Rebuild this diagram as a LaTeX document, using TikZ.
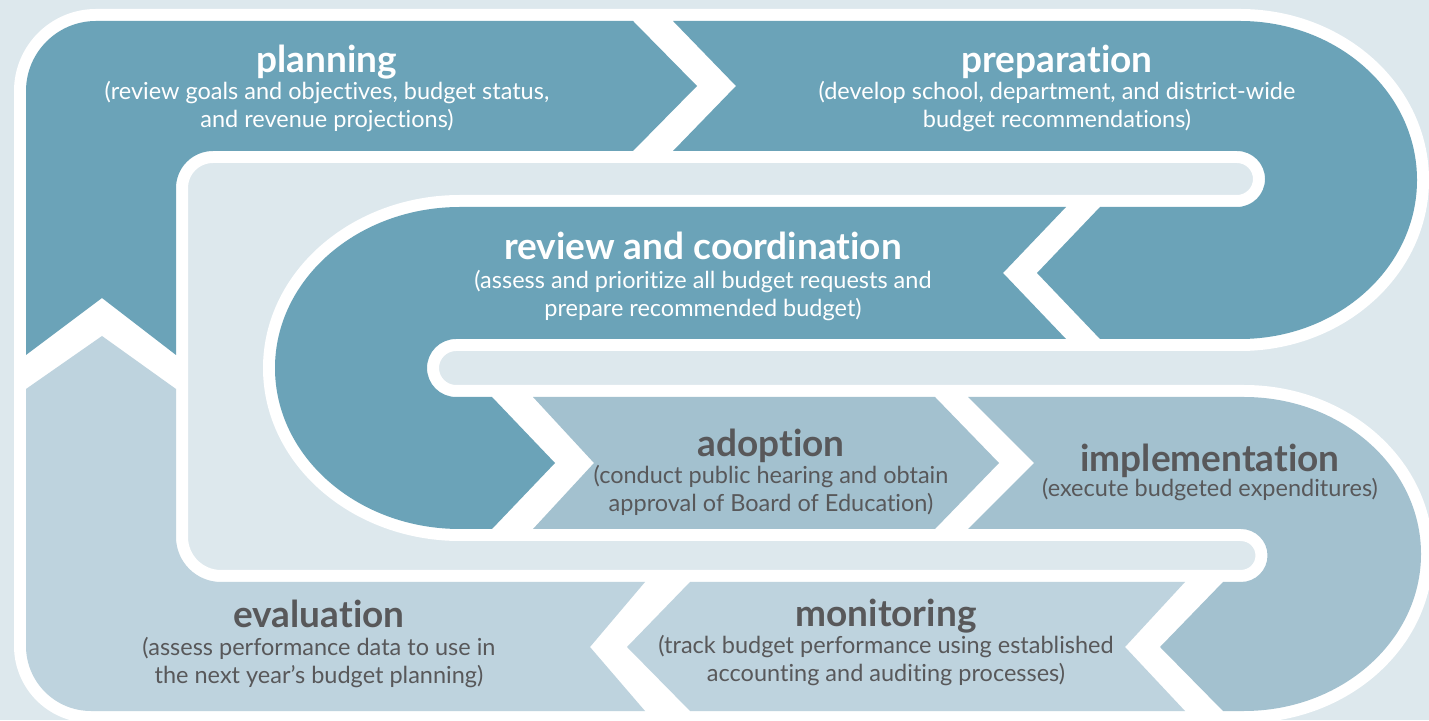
\documentclass[tikz,border=0pt]{standalone}
\usepackage{fontspec}
\setmainfont{Lato}[Ligatures={NoCommon, NoRare, NoContextual}]
\definecolor{bgblue}{HTML}{DDE8ED}
\definecolor{stepdark}{HTML}{6BA3B8}
\definecolor{stepmid}{HTML}{A3C1CF}
\definecolor{steplight}{HTML}{BED3DE}
\definecolor{txtgrey}{HTML}{58585A}
\begin{document}
\begin{tikzpicture}[x=1pt, y=1pt,
		band/.style={preaction={draw=white, line width=24pt, line join=round}},
		gapfill/.style={fill=white, draw=white, line width=24pt, line join=round},
		ttl/.style={font=\fontsize{37}{40}\selectfont\bfseries, anchor=base, inner sep=0pt},
		dsc/.style={font=\fontsize{23.5}{28}\selectfont, anchor=base, align=center, inner sep=0pt}]
			\fill [bgblue] (0,0) rectangle (1429,720);
			\useasboundingbox (0,0) rectangle (1429,720);
			% white gaps between the steps
			\filldraw [gapfill] (633,699) -- (673,699) -- (736,634) -- (673,569) -- (633,569) -- (697,634) -- cycle;
			\filldraw [gapfill] (1066,513) -- (1100,513) -- (1037,447) -- (1100,381) -- (1066,381) -- (1003,447) -- cycle;
			\filldraw [gapfill] (492,323) -- (533,323) -- (594,257) -- (533,191) -- (492,191) -- (555,257) -- cycle;
			\filldraw [gapfill] (935,323) -- (968,323) -- (1034,257) -- (968,191) -- (935,191) -- (999,257) -- cycle;
			\filldraw [gapfill] (1185,138) -- (1223,138) -- (1160,73) -- (1223,9) -- (1185,9) -- (1125,73) -- cycle;
			\filldraw [gapfill] (645,138) -- (690,138) -- (627,73) -- (690,9) -- (645,9) -- (590,73) -- cycle;
			\filldraw [gapfill] (26,365) -- (102,422) -- (176,365) -- (176,331) -- (102,384) -- (26,331) -- cycle;
			% planning, preparation, review
			\fill [stepdark, band] (26,365) -- (26,629) arc (180:90:70) -- (633,699) -- (697,634) -- (633,569) -- (213,569) arc (90:180:37) -- (176,365) -- (102,422) -- cycle;
			\fill [stepdark, band] (673,699) -- (1240,699) arc [start angle=90, end angle=-90, x radius=177, y radius=159] -- (1100,381) -- (1037,447) -- (1100,513) -- (1237,513) arc (-90:90:28) -- (673,569) -- (736,634) -- cycle;
			\fill [stepdark, band] (1066,513) -- (460,513) arc [start angle=90, end angle=270, x radius=185, y radius=161] -- (492,191) -- (555,257) -- (492,323) -- (456,323) arc (270:90:29) -- (1066,381) -- (1003,447) -- cycle;
			% adoption, implementation
			\fill [stepmid, band] (533,323) -- (935,323) -- (999,257) -- (935,191) -- (533,191) -- (594,257) -- cycle;
			\fill [stepmid, band] (968,323) -- (1244,323) arc [start angle=90, end angle=-90, x radius=177, y radius=157] -- (1223,9) -- (1160,73) -- (1223,138) -- (1241,138) arc (-90:90:26.5) -- (968,191) -- (1034,257) -- cycle;
			% monitoring, evaluation
			\fill [steplight, band] (1185,138) -- (690,138) -- (627,73) -- (690,9) -- (1185,9) -- (1125,73) -- cycle;
			\fill [steplight, band] (645,138) -- (221,138) arc (270:180:45) -- (176,331) -- (102,384) -- (26,331) -- (26,74) arc (180:270:65) -- (645,9) -- (590,73) -- cycle;
			% labels
			\node [ttl, text=white] (plan) at (327,647) {planning};
			\node [dsc, text=white] (plan-d) at (327,592) {(review goals and objectives, budget status,\\and revenue projections)};
			\node [ttl, text=white] (prep) at (1057,647) {preparation};
			\node [dsc, text=white] (prep-d) at (1057,592) {(develop school, department, and district-wide\\budget recommendations)};
			\node [ttl, text=white] (revw) at (703,460) {review and coordination};
			\node [dsc, text=white] (revw-d) at (703,403) {(assess and prioritize all budget requests and\\prepare recommended budget)};
			\node [ttl, text=txtgrey] (adop) at (771,263) {adoption};
			\node [dsc, text=txtgrey] (adop-d) at (771,208) {(conduct public hearing and obtain\\approval of Board of Education)};
			\node [ttl, text=txtgrey] (impl) at (1210,248) {implementation};
			\node [dsc, text=txtgrey] (impl-d) at (1210,223) {(execute budgeted expenditures)};
			\node [ttl, text=txtgrey] (moni) at (886,93) {monitoring};
			\node [dsc, text=txtgrey] (moni-d) at (886,38) {(track budget performance using established\\accounting and auditing processes)};
			\node [ttl, text=txtgrey] (eval) at (319,92) {evaluation};
			\node [dsc, text=txtgrey] (eval-d) at (319,37) {(assess performance data to use in\\the next year’s budget planning)};
		\end{tikzpicture}
\end{document}
